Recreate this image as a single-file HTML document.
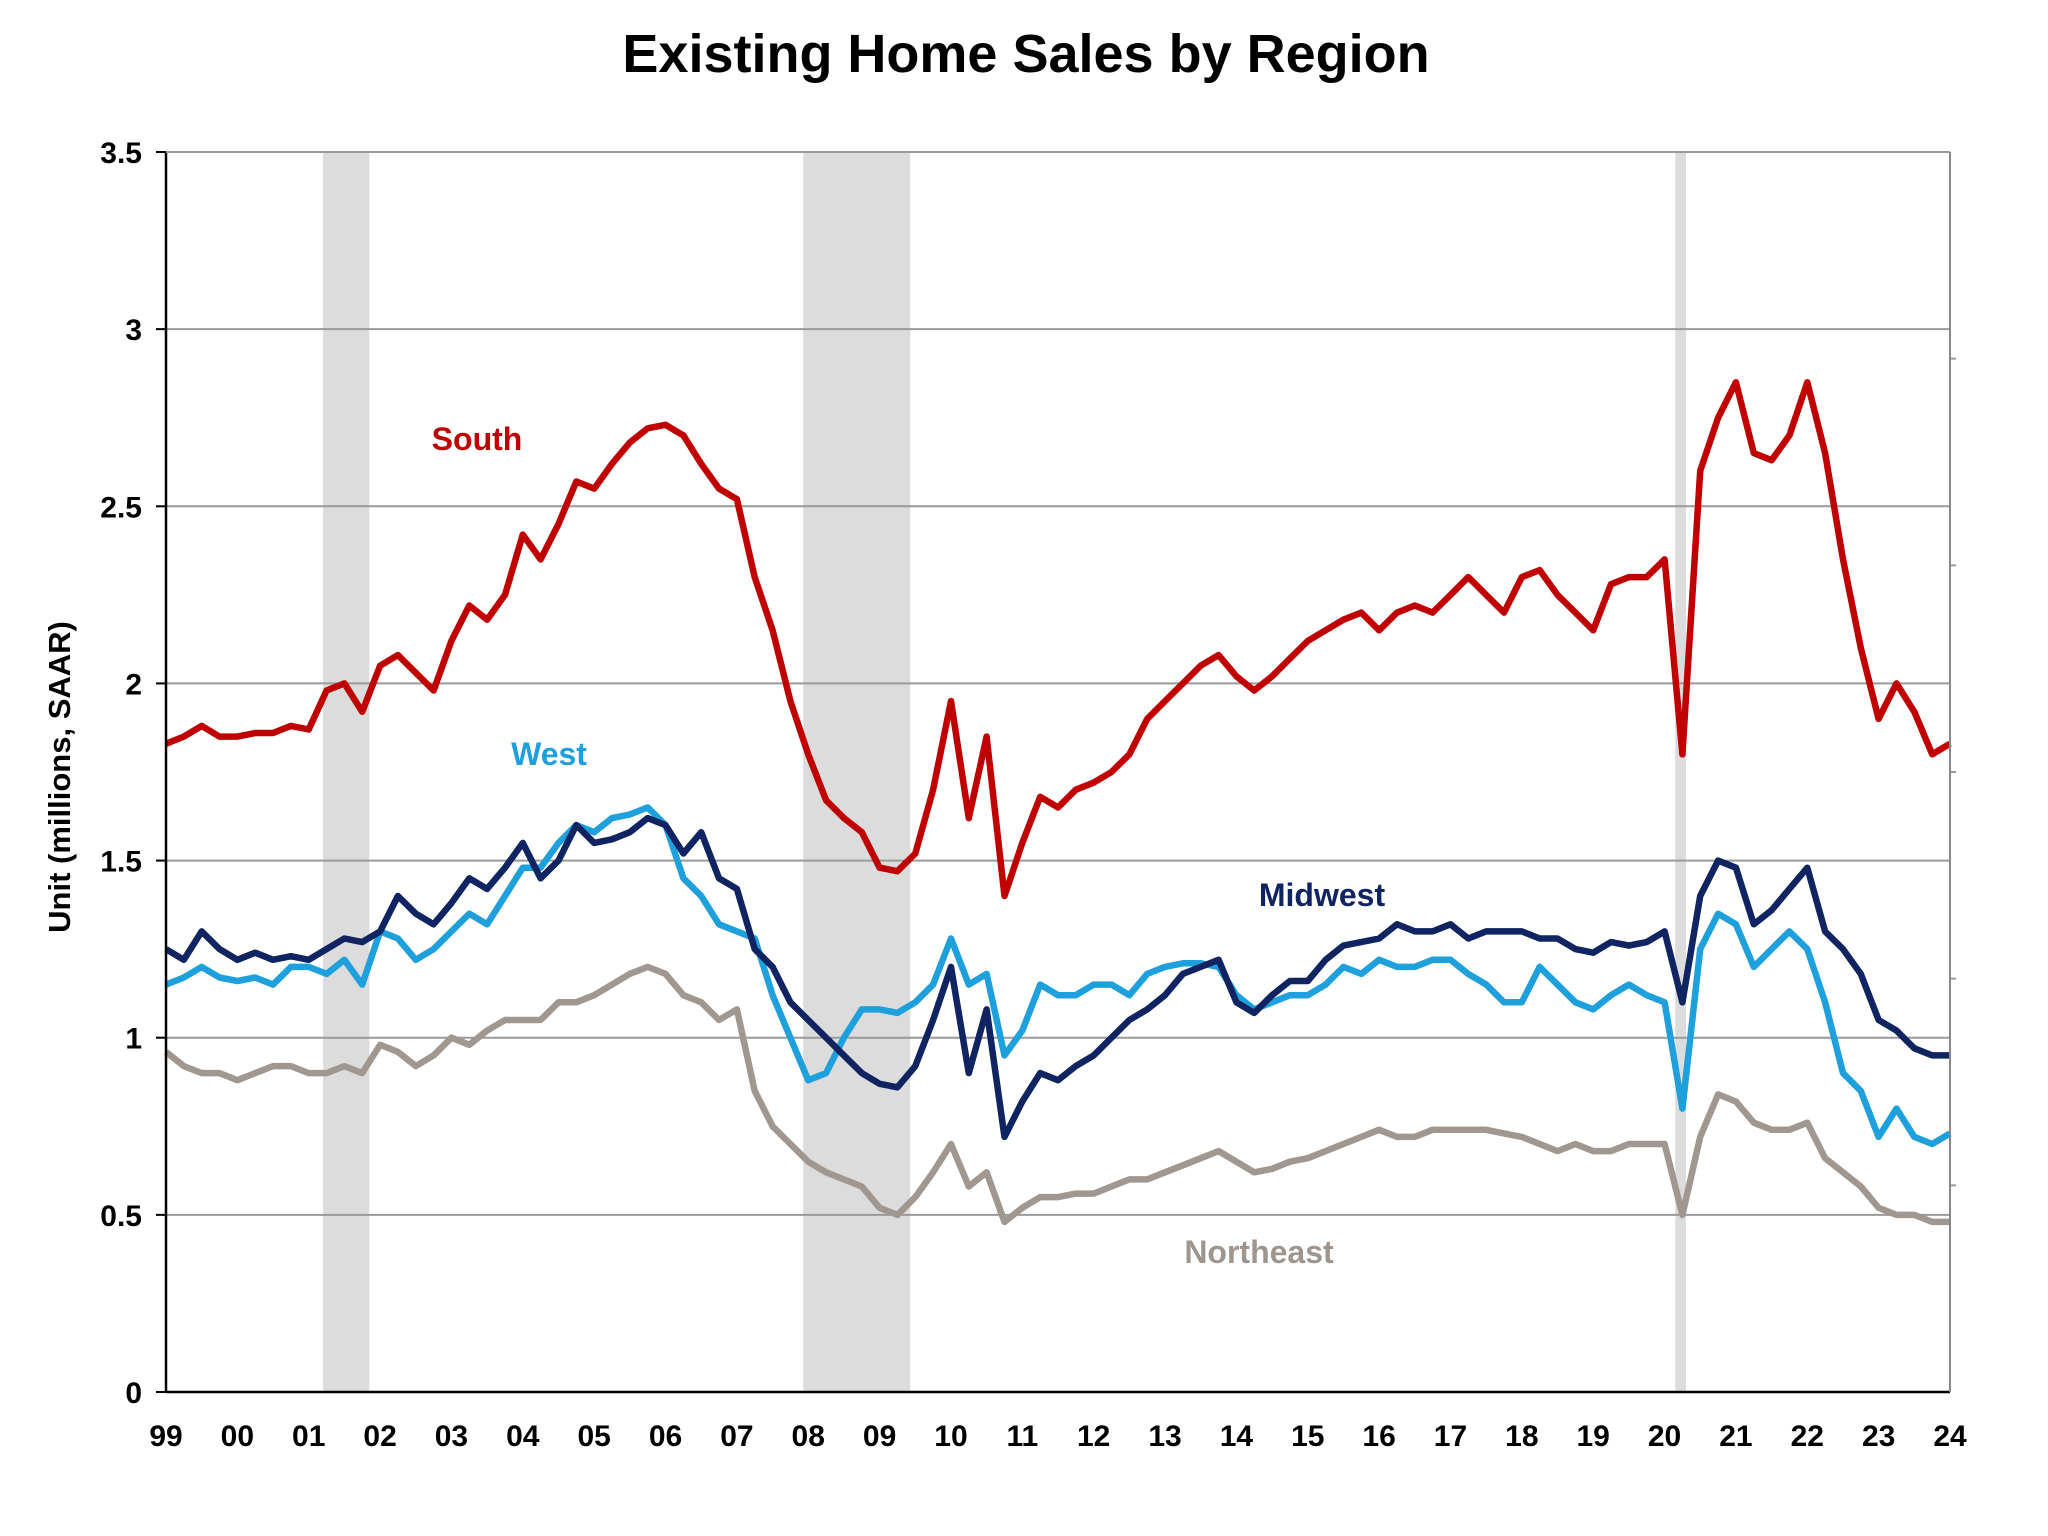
<!DOCTYPE html>
<html><head><meta charset="utf-8"><style>
html,body{margin:0;padding:0;background:#fff;}
svg{display:block;font-family:"Liberation Sans",Arial,sans-serif;}
</style></head><body>
<svg id="chart" width="2048" height="1536" viewBox="0 0 2048 1536" xmlns="http://www.w3.org/2000/svg">
<rect width="2048" height="1536" fill="#fff"/>
<text x="1026" y="72" text-anchor="middle" font-size="54" font-weight="bold" fill="#000">Existing Home Sales by Region</text>
<text transform="translate(70,777) rotate(-90)" text-anchor="middle" font-size="31" font-weight="bold" fill="#000">Unit (millions, SAAR)</text>
<g id="recessions"></g><g id="grid"></g><g id="series"></g><g id="axes"></g>
<text x="477" y="450" text-anchor="middle" font-size="32" font-weight="bold" fill="#c00000">South</text>
<text x="549" y="765" text-anchor="middle" font-size="32" font-weight="bold" fill="#1ea0dc">West</text>
<text x="1322" y="906" text-anchor="middle" font-size="32" font-weight="bold" fill="#0f2460">Midwest</text>
<text x="1259" y="1263" text-anchor="middle" font-size="32" font-weight="bold" fill="#9d958e">Northeast</text>
</svg>
<script>
const yTicks=[0,0.5,1,1.5,2,2.5,3,3.5];
const yTickLabels=["0","0.5","1","1.5","2","2.5","3","3.5"];
const xTickLabels=["99","00","01","02","03","04","05","06","07","08","09","10","11","12","13","14","15","16","17","18","19","20","21","22","23","24"];
const rightTicks=[1,2,3,4,5];
const recessionStarts=[2001.2,2007.93,2020.15];
const recessionEnds=[2001.85,2009.43,2020.3];
const startYear=1999, quartersPerYear=4;
const south=[1.83,1.85,1.88,1.85,1.85,1.86,1.86,1.88,1.87,1.98,2.0,1.92,2.05,2.08,2.03,1.98,2.12,2.22,2.18,2.25,2.42,2.35,2.45,2.57,2.55,2.62,2.68,2.72,2.73,2.7,2.62,2.55,2.52,2.3,2.15,1.95,1.8,1.67,1.62,1.58,1.48,1.47,1.52,1.7,1.95,1.62,1.85,1.4,1.55,1.68,1.65,1.7,1.72,1.75,1.8,1.9,1.95,2.0,2.05,2.08,2.02,1.98,2.02,2.07,2.12,2.15,2.18,2.2,2.15,2.2,2.22,2.2,2.25,2.3,2.25,2.2,2.3,2.32,2.25,2.2,2.15,2.28,2.3,2.3,2.35,1.8,2.6,2.75,2.85,2.65,2.63,2.7,2.85,2.65,2.35,2.1,1.9,2.0,1.92,1.8,1.83];
const midwest=[1.25,1.22,1.3,1.25,1.22,1.24,1.22,1.23,1.22,1.25,1.28,1.27,1.3,1.4,1.35,1.32,1.38,1.45,1.42,1.48,1.55,1.45,1.5,1.6,1.55,1.56,1.58,1.62,1.6,1.52,1.58,1.45,1.42,1.25,1.2,1.1,1.05,1.0,0.95,0.9,0.87,0.86,0.92,1.05,1.2,0.9,1.08,0.72,0.82,0.9,0.88,0.92,0.95,1.0,1.05,1.08,1.12,1.18,1.2,1.22,1.1,1.07,1.12,1.16,1.16,1.22,1.26,1.27,1.28,1.32,1.3,1.3,1.32,1.28,1.3,1.3,1.3,1.28,1.28,1.25,1.24,1.27,1.26,1.27,1.3,1.1,1.4,1.5,1.48,1.32,1.36,1.42,1.48,1.3,1.25,1.18,1.05,1.02,0.97,0.95,0.95];
const west=[1.15,1.17,1.2,1.17,1.16,1.17,1.15,1.2,1.2,1.18,1.22,1.15,1.3,1.28,1.22,1.25,1.3,1.35,1.32,1.4,1.48,1.48,1.55,1.6,1.58,1.62,1.63,1.65,1.6,1.45,1.4,1.32,1.3,1.28,1.12,1.0,0.88,0.9,1.0,1.08,1.08,1.07,1.1,1.15,1.28,1.15,1.18,0.95,1.02,1.15,1.12,1.12,1.15,1.15,1.12,1.18,1.2,1.21,1.21,1.2,1.12,1.08,1.1,1.12,1.12,1.15,1.2,1.18,1.22,1.2,1.2,1.22,1.22,1.18,1.15,1.1,1.1,1.2,1.15,1.1,1.08,1.12,1.15,1.12,1.1,0.8,1.25,1.35,1.32,1.2,1.25,1.3,1.25,1.1,0.9,0.85,0.72,0.8,0.72,0.7,0.73];
const northeast=[0.96,0.92,0.9,0.9,0.88,0.9,0.92,0.92,0.9,0.9,0.92,0.9,0.98,0.96,0.92,0.95,1.0,0.98,1.02,1.05,1.05,1.05,1.1,1.1,1.12,1.15,1.18,1.2,1.18,1.12,1.1,1.05,1.08,0.85,0.75,0.7,0.65,0.62,0.6,0.58,0.52,0.5,0.55,0.62,0.7,0.58,0.62,0.48,0.52,0.55,0.55,0.56,0.56,0.58,0.6,0.6,0.62,0.64,0.66,0.68,0.65,0.62,0.63,0.65,0.66,0.68,0.7,0.72,0.74,0.72,0.72,0.74,0.74,0.74,0.74,0.73,0.72,0.7,0.68,0.7,0.68,0.68,0.7,0.7,0.7,0.5,0.72,0.84,0.82,0.76,0.74,0.74,0.76,0.66,0.62,0.58,0.52,0.5,0.5,0.48,0.48];

const NS="http://www.w3.org/2000/svg";
const X0=166,X1=1950,Y0=1392,Y1=152;
const xs=yr=>X0+(yr-startYear)/25*(X1-X0);
const ys=v=>Y0-v/3.5*(Y0-Y1);
const ys2=v=>Y0-v/6*(Y0-Y1);
function mk(tag,attrs,parent){const e=document.createElementNS(NS,tag);for(const k in attrs)e.setAttribute(k,attrs[k]);parent.appendChild(e);return e;}
const gRec=document.getElementById('recessions'),gGrid=document.getElementById('grid'),gSer=document.getElementById('series'),gAx=document.getElementById('axes');
recessionStarts.forEach((s,i)=>{
  const r=mk('rect',{x:xs(s),y:Y1,width:xs(recessionEnds[i])-xs(s),height:Y0-Y1,fill:'#dcdcdc'},gRec);
  
  
});
yTicks.forEach((t,i)=>{
  if(t>0){const l=mk('line',{x1:X0,x2:X1,y1:ys(t),y2:ys(t),stroke:'#9a9a9a','stroke-width':2},gGrid);
  
  }
  const tk=mk('line',{x1:X0-10,x2:X0,y1:ys(t),y2:ys(t),stroke:'#000','stroke-width':2},gAx);
  
  
  const tx=mk('text',{x:X0-24,y:ys(t)+11,'text-anchor':'end','font-size':30,'font-weight':'bold',fill:'#000'},gAx);
  tx.textContent=yTickLabels[i];
  
  
});
rightTicks.forEach(v=>{
  const y=ys2(v);
  const t=mk('line',{x1:X1,x2:X1+6,y1:y,y2:y,stroke:'#999','stroke-width':2},gAx);
  
  
});
xTickLabels.forEach((lab,i)=>{
  const tx=mk('text',{x:xs(startYear+i),y:Y0+54,'text-anchor':'middle','font-size':30,'font-weight':'bold',fill:'#000'},gAx);
  tx.textContent=lab;
  
  
});
const la=mk('line',{x1:X0,x2:X0,y1:Y1,y2:Y0,stroke:'#000','stroke-width':2.5},gAx);


const ba=mk('line',{x1:X0,x2:X1,y1:Y0,y2:Y0,stroke:'#000','stroke-width':2.5},gAx);


const ra=mk('line',{x1:X1,x2:X1,y1:Y1,y2:Y0,stroke:'#888','stroke-width':2},gAx);


const ta=mk('line',{x1:X0,x2:X1,y1:Y1,y2:Y1,stroke:'#999','stroke-width':2},gAx);


function draw(vals,color,name){
  const d=vals.map((v,i)=>(i?'L':'M')+xs(startYear+i/quartersPerYear).toFixed(1)+','+ys(v).toFixed(1)).join(' ');
  const p=mk('path',{d:d,fill:'none',stroke:color,'stroke-width':6.5,'stroke-linejoin':'round'},gSer);
  
  
}
draw(northeast,'#a09890','northeast-line');
draw(west,'#1ea0dc','west-line');
draw(midwest,'#0f2460','midwest-line');
draw(south,'#c00000','south-line');
</script>
</body></html>
